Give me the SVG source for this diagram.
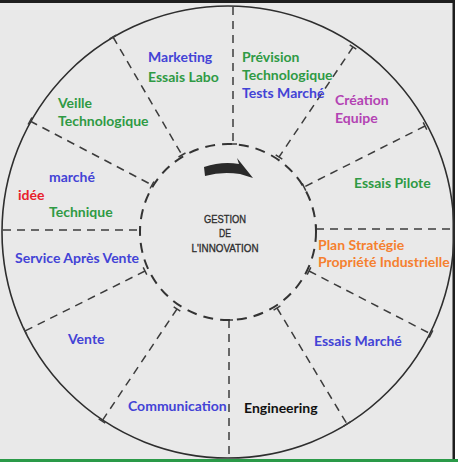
<svg xmlns="http://www.w3.org/2000/svg" width="458" height="462" viewBox="0 0 458 462">
<style>
.lbl{font-family:Lato,"Open Sans","Liberation Sans",sans-serif;font-weight:bold;font-size:14px}
.blue{fill:#4343d6}.green{fill:#2f9a44}.red{fill:#e8202c}.purple{fill:#b343b3}.orange{fill:#f5802f}.black{fill:#111}
.div{stroke:#3c3c3c;stroke-width:1.5;stroke-dasharray:8 6;fill:none}
.tick{stroke:#3c3c3c;stroke-width:1.5;fill:none}
.center{font-family:"Liberation Sans",Arial,sans-serif;font-size:11.5px;fill:#2e2e2e;stroke:#2e2e2e;stroke-width:0.35}
</style>
<rect x="0" y="0" width="458" height="462" fill="#e9e9e9"/>
<rect x="455" y="0" width="3" height="462" fill="#ffffff"/>
<rect x="0" y="0" width="455" height="3" fill="#1e1e1e"/>
<rect x="452.5" y="0" width="2.5" height="460" fill="#1e1e1e"/>
<rect x="0" y="459" width="458" height="3" fill="#2a9a48"/>
<g id="outer-ring">
<circle cx="228" cy="232" r="226" fill="none" stroke="#2e2e2e" stroke-width="1.6"/>
</g>
<g id="connectors">
<line class="div" x1="233" y1="7" x2="233" y2="144"/>
<line class="div" x1="113" y1="37" x2="182" y2="155"/>
<line class="div" x1="30" y1="121" x2="152" y2="185"/>
<line class="div" x1="3" y1="230" x2="140" y2="230"/>
<line class="div" x1="316" y1="229" x2="453" y2="229"/>
<line class="div" x1="353" y1="47" x2="279" y2="157"/>
<line class="div" x1="425" y1="126" x2="304" y2="187"/>
<line class="div" x1="309" y1="271" x2="431" y2="334"/>
<line class="div" x1="277" y1="308" x2="347" y2="424"/>
<line class="div" x1="229" y1="320" x2="229" y2="458"/>
<line class="div" x1="177" y1="309" x2="102" y2="421"/>
<line class="div" x1="145" y1="271" x2="25" y2="331"/>
<path class="tick" d="M229,144H237M178.5,157L185.5,153M109.5,39L116.5,35M150.1,188.5L153.9,181.5M28.1,124.5L31.9,117.5M275.7,154.8L282.3,159.2M349.7,44.8L356.3,49.2M302.2,183.4L305.8,190.6M423.2,122.4L426.8,129.6M307.2,274.6L310.8,267.4M429.2,337.6L432.8,330.4M273.6,310.1L280.4,305.9M343.6,426.1L350.4,421.9M225,320H233M173.7,306.8L180.3,311.2M98.7,418.8L105.3,423.2M143.2,267.4L146.8,274.6M23.2,327.4L26.8,334.6M140,226V234M316,225V233"/>
</g>
<g id="center">
<circle cx="228" cy="232" r="88" fill="none" stroke="#333" stroke-width="2" stroke-dasharray="10 7"/>
<path d="M204,167 Q222,161 239,164 L237,158 L253,178 L240,174 Q222,171 205,176 Z" fill="#2a2a2a"/>
<text class="center" x="225" y="223" text-anchor="middle" textLength="42" lengthAdjust="spacingAndGlyphs">GESTION</text>
<text class="center" x="225" y="237" text-anchor="middle" textLength="12" lengthAdjust="spacingAndGlyphs">DE</text>
<text class="center" x="225" y="252" text-anchor="middle" textLength="67" lengthAdjust="spacingAndGlyphs">L'INNOVATION</text>
</g>
<g id="seg-marketing"><text class="lbl blue" x="148" y="62">Marketing</text><text class="lbl green" x="148" y="82">Essais Labo</text></g>
<g id="seg-prevision"><text class="lbl green" x="242" y="62">Prévision</text><text class="lbl green" x="242" y="80">Technologique</text><text class="lbl blue" x="242" y="98">Tests Marché</text></g>
<g id="seg-creation"><text class="lbl purple" x="335" y="105">Création</text><text class="lbl purple" x="335" y="123">Equipe</text></g>
<g id="seg-pilote"><text class="lbl green" x="354" y="188">Essais Pilote</text></g>
<g id="seg-plan"><text class="lbl orange" x="318" y="250">Plan Stratégie</text><text class="lbl orange" x="318" y="267">Propriété Industrielle</text></g>
<g id="seg-essais-marche"><text class="lbl blue" x="314" y="346">Essais Marché</text></g>
<g id="seg-engineering"><text class="lbl black" x="244" y="413">Engineering</text></g>
<g id="seg-communication"><text class="lbl blue" x="128" y="411">Communication</text></g>
<g id="seg-vente"><text class="lbl blue" x="68" y="344">Vente</text></g>
<g id="seg-sav"><text class="lbl blue" x="15" y="263">Service Après Vente</text></g>
<g id="seg-idee"><text class="lbl blue" x="49" y="182">marché</text><text class="lbl red" x="18" y="200">idée</text><text class="lbl green" x="49" y="217">Technique</text></g>
<g id="seg-veille"><text class="lbl green" x="58" y="108">Veille</text><text class="lbl green" x="58" y="126">Technologique</text></g>
</svg>
